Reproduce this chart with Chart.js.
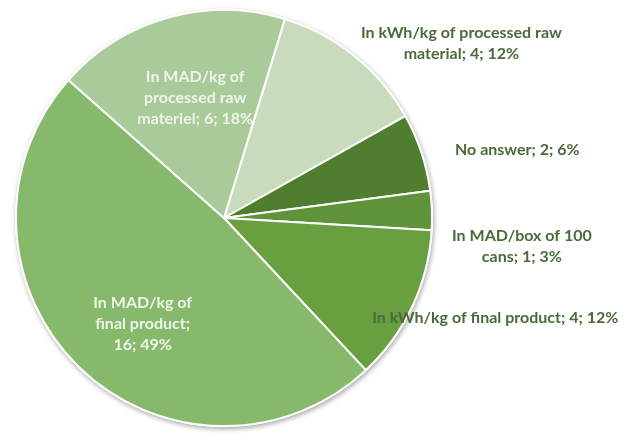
<!DOCTYPE html>
<html lang="en">
<head>
    <meta charset="UTF-8">
    <title>Pricing unit</title>
    <script src="https://cdn.jsdelivr.net/npm/chart.js"></script>
    <style>
        html, body { margin: 0; padding: 0; background: #fff; }
        #wrap { width: 626px; height: 435px; }
    </style>
</head>
<body>
    <div id="wrap"><canvas id="unitChart" width="626" height="435"></canvas></div>
    <script>
        const categories = [
            'In kWh/kg of processed raw material',
            'No answer',
            'In MAD/box of 100 cans',
            'In kWh/kg of final product',
            'In MAD/kg of final product',
            'In MAD/kg of processed raw materiel'
        ];
        const counts = [4, 2, 1, 4, 16, 6];
        const percents = [12, 6, 3, 12, 49, 18];
        const sliceColors = ['#c8dcbd', '#4f7f2e', '#5e9339', '#68a040', '#86b96b', '#a9ca99'];

        // label placement: radial factor from center, pixel nudge, wrap width, inside/outside
        const labelRadius = [1, 1, 1, 1, 0.65, 0.6];
        const labelNudge = [[107, -13], [96, -2], [90, 36], [83, 11], [13, 9], [5, 0]];
        const labelWrap = [210, 300, 150, 300, 105, 128];
        const labelInside = [false, false, false, false, true, true];

        const labelFont = 'bold 16px Lato';
        const lineHeight = 21;

        function wrapText(ctx, text, maxW) {
            const words = text.split(' ');
            const lines = [];
            let cur = '';
            words.forEach(w => {
                const test = cur ? cur + ' ' + w : w;
                if (cur && ctx.measureText(test).width > maxW) {
                    lines.push(cur);
                    cur = w;
                } else {
                    cur = test;
                }
            });
            if (cur) lines.push(cur);
            return lines;
        }

        const pieShadow = {
            id: 'pieShadow',
            beforeDatasetsDraw(chart) {
                const arc = chart.getDatasetMeta(0).data[0];
                if (!arc) return;
                const ctx = chart.ctx;
                ctx.save();
                ctx.shadowColor = 'rgba(0,0,0,0.35)';
                ctx.shadowBlur = 5;
                ctx.shadowOffsetX = 1;
                ctx.shadowOffsetY = 2;
                ctx.fillStyle = '#ffffff';
                ctx.beginPath();
                ctx.arc(arc.x, arc.y, arc.outerRadius + 1, 0, Math.PI * 2);
                ctx.fill();
                ctx.restore();
            }
        };

        const sliceLabels = {
            id: 'sliceLabels',
            afterDatasetsDraw(chart) {
                const ctx = chart.ctx;
                ctx.save();
                ctx.font = labelFont;
                ctx.textAlign = 'center';
                ctx.textBaseline = 'middle';
                chart.getDatasetMeta(0).data.forEach((arc, i) => {
                    const mid = (arc.startAngle + arc.endAngle) / 2;
                    const r = arc.outerRadius * labelRadius[i];
                    const x = arc.x + Math.cos(mid) * r + labelNudge[i][0];
                    const y = arc.y + Math.sin(mid) * r + labelNudge[i][1];
                    const text = categories[i] + '; ' + counts[i] + '; ' + percents[i] + '%';
                    const lines = wrapText(ctx, text, labelWrap[i]);
                    ctx.fillStyle = labelInside[i] ? '#eff4ea' : '#4b6a3c';
                    const y0 = y - (lines.length - 1) * lineHeight / 2;
                    lines.forEach((ln, j) => ctx.fillText(ln, x, y0 + j * lineHeight));
                });
                ctx.restore();
            }
        };

        new Chart(document.getElementById('unitChart'), {
            type: 'pie',
            data: {
                labels: categories,
                datasets: [{
                    data: counts,
                    backgroundColor: sliceColors,
                    borderColor: '#ffffff',
                    borderWidth: 2
                }]
            },
            options: {
                responsive: false,
                animation: false,
                rotation: 17,
                layout: { padding: { left: 15, top: 9, right: 193, bottom: 8 } },
                plugins: {
                    legend: { display: false },
                    tooltip: { enabled: false }
                }
            },
            plugins: [pieShadow, sliceLabels]
        });
    </script>
</body>
</html>
